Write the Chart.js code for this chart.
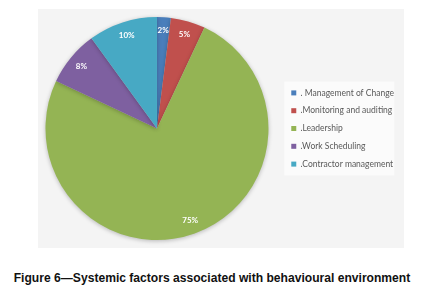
<!DOCTYPE html>
<html>
<head>
<meta charset="utf-8">
<script src="https://cdn.jsdelivr.net/npm/chart.js@4"></script>
<style>
	body { margin: 0; background: #fff; width: 424px; height: 291px; position: relative; overflow: hidden; }
	#box { position: absolute; left: 38px; top: 9px; width: 366px; height: 239px; background: #f4f4f4; }
	#wrap { position: absolute; left: -14px; top: 0; width: 386px; height: 239px; }
	#caption { position: absolute; left: 0; width: 424px; top: 271px; text-align: center;
		font-family: "Liberation Sans Narrow", "Liberation Sans", Arial, sans-serif; font-weight: bold; font-size: 12.1px; color: #111; }
</style>
</head>
<body>
<div id="box"><div id="wrap"><canvas id="myChart"></canvas></div></div>
<div id="caption">Figure 6—Systemic factors associated with behavioural environment</div>
<script>
var categories = ['. Management of Change', '.Monitoring and auditing', '.Leadership', '.Work Scheduling', '.Contractor management'];
var values = [2, 5, 75, 8, 10];
var colors = ['#4a7ebb', '#c0504d', '#94b454', '#7e60a0', '#47a9c4'];

// percentage labels near the outer edge of each slice
var sliceLabels = {
	id: 'sliceLabels',
	afterDatasetsDraw: function(chart) {
		var ctx = chart.ctx;
		var meta = chart.getDatasetMeta(0);
		ctx.save();
		ctx.font = 'bold 8px Lato, sans-serif';
		ctx.fillStyle = '#fff';
		ctx.textAlign = 'center';
		ctx.textBaseline = 'middle';
		meta.data.forEach(function(arc, i) {
			var p = arc.getProps(['x', 'y', 'startAngle', 'endAngle', 'outerRadius']);
			var a = (p.startAngle + p.endAngle) / 2;
			var r = p.outerRadius * 0.88;
			ctx.fillText(values[i] + '%', p.x + Math.cos(a) * r, p.y + Math.sin(a) * r);
		});
		ctx.restore();
	}
};

// lighter panel behind the legend, soft shadow under pie
var legendPanel = {
	id: 'legendPanel',
	beforeDraw: function(chart) {
		var l = chart.legend;
		var hb = l.legendHitBoxes;
		if (!hb || !hb.length) return;
		var top = hb[0].top - 7;
		var bottom = hb[hb.length - 1].top + hb[hb.length - 1].height + 7;
		var ctx = chart.ctx;
		ctx.save();
		ctx.fillStyle = '#fbfbfb';
		ctx.fillRect(hb[0].left - 7, top, 110, bottom - top);
		ctx.restore();
	},
	beforeDatasetsDraw: function(chart) {
		chart.ctx.save();
		chart.ctx.shadowColor = 'rgba(0,0,0,0.25)';
		chart.ctx.shadowBlur = 4;
		chart.ctx.shadowOffsetY = 1;
	},
	afterDatasetsDraw: function(chart) {
		chart.ctx.restore();
	}
};

var ctx = document.getElementById('myChart').getContext('2d');
new Chart(ctx, {
	type: 'pie',
	data: {
		labels: categories,
		datasets: [{
			data: values,
			backgroundColor: colors,
			borderWidth: 0
		}]
	},
	options: {
		responsive: true,
		maintainAspectRatio: false,
		animation: false,
		layout: { padding: { left: 8, top: 8, bottom: 8, right: 6 } },
		plugins: {
			tooltip: { enabled: false },
			legend: {
				position: 'right',
				labels: {
					boxWidth: 5,
					boxHeight: 5,
					padding: 9.3,
					color: '#595959',
					font: { family: 'Lato, sans-serif', size: 8.5 }
				}
			}
		}
	},
	plugins: [legendPanel, sliceLabels]
});
</script>
</body>
</html>
